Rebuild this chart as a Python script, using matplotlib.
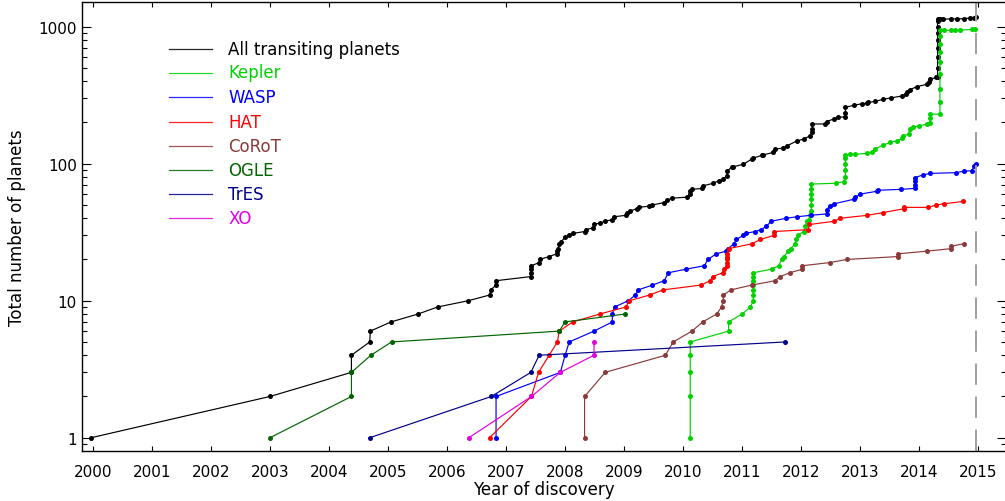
import matplotlib
matplotlib.use("Agg")
import matplotlib.pyplot as plt
from matplotlib.lines import Line2D

# ---------------- data (year of discovery, cumulative number) ----------------
all_years = [1999.97, 2003.00, 2004.38, 2004.38, 2004.69, 2004.70, 2005.05, 2005.51, 2005.84,
             2006.36, 2006.72, 2006.74, 2006.83, 2006.83, 2007.42, 2007.42, 2007.43, 2007.43,
             2007.56, 2007.57, 2007.73, 2007.86, 2007.87, 2007.88, 2007.90, 2007.93, 2008.00,
             2008.06, 2008.14, 2008.33, 2008.35, 2008.47, 2008.49, 2008.59, 2008.68, 2008.79,
             2008.83, 2009.03, 2009.05, 2009.10, 2009.21, 2009.25, 2009.42, 2009.48, 2009.67,
             2009.72, 2009.81, 2010.06, 2010.12, 2010.12, 2010.15, 2010.32, 2010.34, 2010.51,
             2010.60, 2010.68, 2010.74, 2010.75, 2010.82, 2010.85, 2011.02, 2011.16, 2011.19,
             2011.33, 2011.36, 2011.53, 2011.56, 2011.70, 2011.76, 2011.93, 2012.04, 2012.15,
             2012.18, 2012.19, 2012.19, 2012.41, 2012.43, 2012.55, 2012.63, 2012.74, 2012.75,
             2012.75, 2012.89, 2013.03, 2013.11, 2013.14, 2013.25, 2013.39, 2013.53, 2013.71,
             2013.77, 2013.79, 2013.84, 2013.96, 2014.13, 2014.17, 2014.19, 2014.29, 2014.31,
             2014.31, 2014.31, 2014.31, 2014.31, 2014.31, 2014.31, 2014.31, 2014.31, 2014.35,
             2014.41, 2014.53, 2014.64, 2014.75, 2014.86, 2014.93, 2014.96]
all_counts = [1, 2, 3, 4, 5, 6, 7, 8, 9,
              10, 11, 12, 13, 14, 15, 16, 17, 18,
              19, 20, 21, 22, 23, 24, 26, 27, 29,
              30, 31, 32, 33, 34, 36, 37, 38, 39,
              41, 42, 44, 45, 47, 48, 49, 50, 52,
              54, 56, 57, 60, 63, 65, 66, 69, 72,
              75, 77, 82, 89, 94, 95, 99, 108, 110,
              115, 116, 121, 128, 130, 135, 147, 151, 160,
              169, 180, 195, 195, 203, 212, 218, 220, 235,
              258, 267, 274, 277, 280, 285, 295, 303, 312,
              325, 335, 347, 365, 380, 395, 414, 427, 430,
              500, 600, 700, 800, 900, 1000, 1100, 1138, 1135,
              1135, 1140, 1140, 1145, 1155, 1165, 1180]

kepler_years = [2010.12, 2010.12, 2010.12, 2010.12, 2010.12, 2010.77, 2010.77, 2011.00, 2011.14,
                2011.19, 2011.19, 2011.19, 2011.19, 2011.19, 2011.19, 2011.19, 2011.50, 2011.62,
                2011.67, 2011.71, 2011.78, 2011.82, 2011.90, 2011.92, 2011.95, 2012.04, 2012.07,
                2012.09, 2012.13, 2012.15, 2012.17, 2012.17, 2012.17, 2012.17, 2012.17, 2012.17,
                2012.59, 2012.72, 2012.75, 2012.75, 2012.75, 2012.75, 2012.75, 2012.83, 2012.92,
                2013.11, 2013.20, 2013.25, 2013.39, 2013.51, 2013.62, 2013.71, 2013.73, 2013.82,
                2013.84, 2013.90, 2013.99, 2014.13, 2014.19, 2014.19, 2014.19, 2014.35, 2014.35,
                2014.35, 2014.35, 2014.35, 2014.35, 2014.35, 2014.35, 2014.35, 2014.42, 2014.53,
                2014.61, 2014.69, 2014.89, 2014.95]
kepler_counts = [1, 2, 3, 4, 5, 6, 7, 8, 9,
                 10, 11, 12, 13, 14, 15, 16, 17, 18,
                 20, 21, 23, 24, 26, 28, 30, 32, 35,
                 38, 39, 42, 45, 50, 55, 60, 65, 71,
                 72, 74, 80, 90, 100, 110, 115, 117, 117,
                 119, 122, 128, 137, 143, 147, 153, 160, 164,
                 179, 184, 189, 194, 198, 215, 230, 230, 280,
                 350, 450, 550, 650, 750, 850, 946, 940, 942,
                 942, 945, 955, 960]

wasp_years = [2006.83, 2006.83, 2007.92, 2008.00, 2008.07, 2008.49, 2008.80, 2008.80, 2008.84,
              2009.07, 2009.19, 2009.24, 2009.48, 2009.68, 2009.75, 2010.05, 2010.36, 2010.42,
              2010.56, 2010.73, 2010.76, 2010.86, 2010.90, 2011.02, 2011.06, 2011.22, 2011.32,
              2011.41, 2011.49, 2011.75, 2011.93, 2012.16, 2012.43, 2012.43, 2012.48, 2012.56,
              2012.89, 2012.92, 2013.00, 2013.29, 2013.30, 2013.69, 2013.92, 2013.92, 2013.92,
              2013.92, 2014.07, 2014.19, 2014.62, 2014.75, 2014.89, 2014.93, 2014.96]
wasp_counts = [1, 2, 3, 4, 5, 6, 7, 8, 9,
               10, 11, 12, 13, 14, 16, 17, 18, 20,
               22, 23, 24, 26, 28, 30, 31, 32, 33,
               35, 38, 40, 41, 42, 43, 46, 49, 51,
               55, 57, 60, 63, 64, 65, 66, 70, 75,
               79, 83, 85, 86, 88, 89, 96, 100]

hat_years = [2006.72, 2007.43, 2007.55, 2007.73, 2007.87, 2007.90, 2008.13, 2008.59, 2009.03,
             2009.09, 2009.43, 2009.66, 2010.30, 2010.46, 2010.50, 2010.67, 2010.69, 2010.74,
             2010.75, 2010.75, 2010.75, 2010.75, 2010.77, 2011.16, 2011.31, 2011.54, 2011.54,
             2012.12, 2012.14, 2012.56, 2012.66, 2013.12, 2013.39, 2013.75, 2013.75, 2014.15,
             2014.29, 2014.42, 2014.74]
hat_counts = [1, 2, 3, 4, 5, 6, 7, 8, 9,
              10, 11, 12, 13, 14, 15, 16, 17, 18,
              19, 20, 21, 22, 24, 26, 28, 30, 32,
              33, 36, 38, 40, 42, 44, 47, 48, 48,
              50, 51, 53]

corot_years = [2008.33, 2008.33, 2008.68, 2009.70, 2009.83, 2010.15, 2010.33, 2010.57, 2010.65,
               2010.68, 2010.68, 2010.81, 2011.16, 2011.56, 2011.64, 2011.81, 2012.02, 2012.02,
               2012.49, 2012.77, 2013.64, 2013.64, 2014.13, 2014.54, 2014.54, 2014.75]
corot_counts = [1, 2, 3, 4, 5, 6, 7, 8, 9,
                10, 11, 12, 13, 14, 15, 16, 17, 18,
                19, 20, 21, 22, 23, 24, 25, 26]

ogle_years = [2003.00, 2004.38, 2004.38, 2004.71, 2005.06, 2007.90, 2008.00, 2009.02]
ogle_counts = [1, 2, 3, 4, 5, 6, 7, 8]

tres_years = [2004.69, 2006.75, 2007.42, 2007.56, 2011.73]
tres_counts = [1, 2, 3, 4, 5]

xo_years = [2006.37, 2007.43, 2007.92, 2008.49, 2008.49]
xo_counts = [1, 2, 3, 4, 5]

series_names = ["All transiting planets", "Kepler", "WASP", "HAT", "CoRoT", "OGLE", "TrES", "XO"]
series_colors = ["#000000", "#00d200", "#0000ff", "#ff0000", "#8b3a3a", "#006400", "#00008b", "#e000e0"]

x_ticks = list(range(2000, 2016))
y_ticks = [1, 10, 100, 1000]
y_tick_labels = ["1", "10", "100", "1000"]

# ---------------- figure ----------------
plt.rcParams['font.family'] = ['DejaVu Sans']
W, H = 1005, 502
fig = plt.figure(figsize=(W / 100, H / 100), dpi=100)
L, R, T, B = 81.7, 1006.0, 3.3, 451.7
ax = fig.add_axes([L / W, 1 - B / H, (R - L) / W, (B - T) / H])

data = [(all_years, all_counts), (kepler_years, kepler_counts), (wasp_years, wasp_counts),
        (hat_years, hat_counts), (corot_years, corot_counts), (ogle_years, ogle_counts),
        (tres_years, tres_counts), (xo_years, xo_counts)]

for (xs, ys), c in zip(data, series_colors):
    ax.plot(xs, ys, '-', color=c, lw=0.85, marker='o', ms=3.6, mfc=c, mec=c, mew=0)

ax.axvline(2014.96, color='#a0a0a0', lw=1.4, dashes=(11, 6))

ax.set_yscale('log')
ax.set_xlim(1999.81, 2015.47)
ax.set_ylim(0.804, 1507)
ax.set_xticks(x_ticks)
ax.set_xticklabels([str(t) for t in x_ticks])
ax.set_yticks(y_ticks)
ax.set_yticklabels(y_tick_labels)
ax.minorticks_on()
ax.xaxis.set_minor_locator(matplotlib.ticker.NullLocator())
ax.yaxis.set_minor_locator(matplotlib.ticker.LogLocator(base=10, subs=range(2, 10), numticks=20))
ax.yaxis.set_minor_formatter(matplotlib.ticker.NullFormatter())

ax.tick_params(axis='x', which='major', direction='in', length=3.8, width=0.8,
               top=True, bottom=True, labelsize=11, pad=9.5)
ax.tick_params(axis='y', which='major', direction='in', length=6.8, width=0.8,
               left=True, right=True, labelsize=11, pad=3.5)
ax.tick_params(axis='y', which='minor', direction='in', length=3.4, width=0.8,
               left=True, right=True)
for s in ax.spines.values():
    s.set_linewidth(1.0)

ax.set_xlabel("Year of discovery", fontsize=12, labelpad=1)
ax.set_ylabel("Total number of planets", fontsize=12, labelpad=9)

# legend (lines + coloured labels)
row_y = [50, 73.5, 98, 122.5, 147, 171, 195, 219]
for name, c, py in zip(series_names, series_colors, row_y):
    fig.add_artist(Line2D([169 / W, 212 / W], [1 - py / H, 1 - py / H], color=c, lw=0.9, alpha=0.85))
    fig.text(228 / W, 1 - py / H, name, color=c, fontsize=12, va='center', ha='left')

fig.savefig("out.png", dpi=100)
